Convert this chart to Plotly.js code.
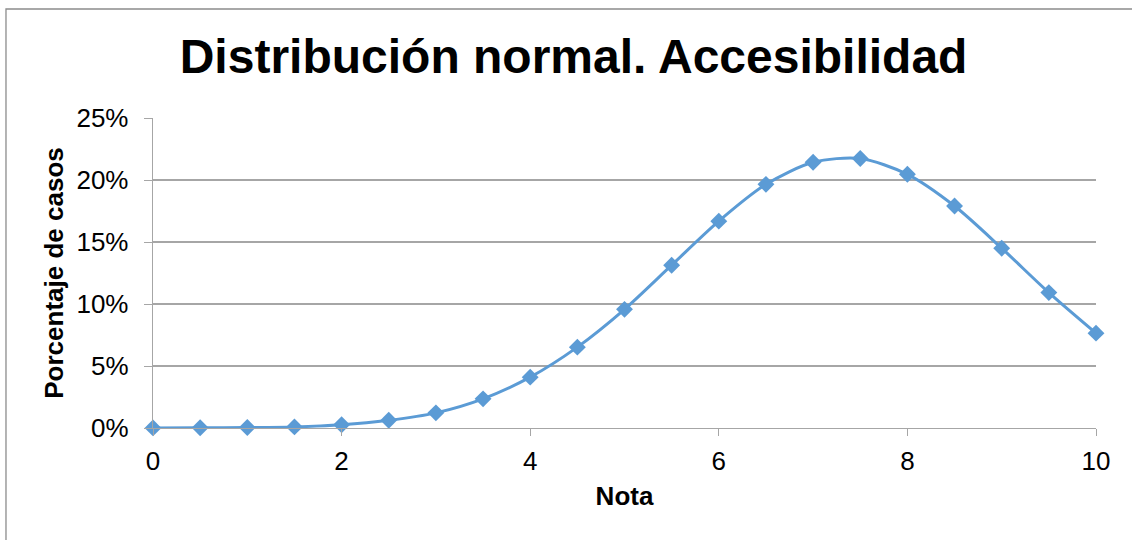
<!DOCTYPE html>
<html>
<head>
<meta charset="utf-8">
<script src="https://cdn.plot.ly/plotly-3.0.1.min.js"></script>
<style>html,body{margin:0;padding:0;background:#fff;}#chart{width:1132px;height:540px;}</style>
</head>
<body>
<div id="chart"></div>
<script>
const notas = [0, 0.5, 1, 1.5, 2, 2.5, 3, 3.5, 4, 4.5, 5, 5.5, 6, 6.5, 7, 7.5, 8, 8.5, 9, 9.5, 10];
const porcentajes = [0.01, 0.02, 0.04, 0.09, 0.26, 0.62, 1.22, 2.35, 4.1, 6.52, 9.57, 13.13, 16.68, 19.65, 21.43, 21.73, 20.46, 17.9, 14.5, 10.92, 7.65];
const yTicks = [0, 5, 10, 15, 20, 25];
const xTicks = [0, 2, 4, 6, 8, 10];

const font = "Liberation Sans, Arial, sans-serif";
const trace = {
  x: notas, y: porcentajes, type: 'scatter', mode: 'lines+markers',
  line: {color: '#5B9BD5', width: 3, shape: 'spline', smoothing: 0.8},
  marker: {symbol: 'diamond', size: 13, color: '#5B9BD5'},
  cliponaxis: false, hoverinfo: 'x+y'
};
const layout = {
  width: 1132, height: 540,
  margin: {l: 153, r: 36, t: 118, b: 112},
  paper_bgcolor: '#fff', plot_bgcolor: '#fff',
  showlegend: false,
  font: {family: font, color: '#000', size: 26},
  title: {text: '<b>Distribución normal. Accesibilidad</b>', font: {family: font, size: 48, color: '#000'},
          x: 0.446, xanchor: 'center', y: 0.896, yanchor: 'middle', xref: 'paper', yref: 'container'},
  xaxis: {range: [0, 10], tickvals: xTicks, ticktext: xTicks.map(String), showgrid: false, zeroline: false,
          showline: true, linecolor: '#A6A6A6', linewidth: 1.3, ticks: 'outside', ticklen: 7, tickcolor: '#A6A6A6',
          tickfont: {family: font, size: 26}, ticklabelstandoff: 2, fixedrange: true,
          title: {text: '<b>Nota</b>', font: {family: font, size: 26}, standoff: 12}},
  yaxis: {range: [0, 25], tickvals: yTicks, ticktext: yTicks.map(v => v + '%'), showgrid: true, gridcolor: '#A6A6A6', gridwidth: 1.3,
          zeroline: false, showline: true, linecolor: '#A6A6A6', linewidth: 1.3, ticks: 'outside', ticklen: 8, tickcolor: '#A6A6A6',
          tickfont: {family: font, size: 26}, ticklabelstandoff: 10, fixedrange: true,
          title: {text: '<b>Porcentaje de casos</b>', font: {family: font, size: 26}, standoff: 5}},
  shapes: [{type: 'rect', xref: 'paper', yref: 'paper', x0: -0.1559, x1: 1.2, y0: -0.6, y1: 1.3516,
            line: {color: '#8C8C8C', width: 1.3}, fillcolor: 'rgba(0,0,0,0)', layer: 'below'}]
};
Plotly.newPlot('chart', [trace], layout, {displayModeBar: false, staticPlot: true});
</script>
</body>
</html>
